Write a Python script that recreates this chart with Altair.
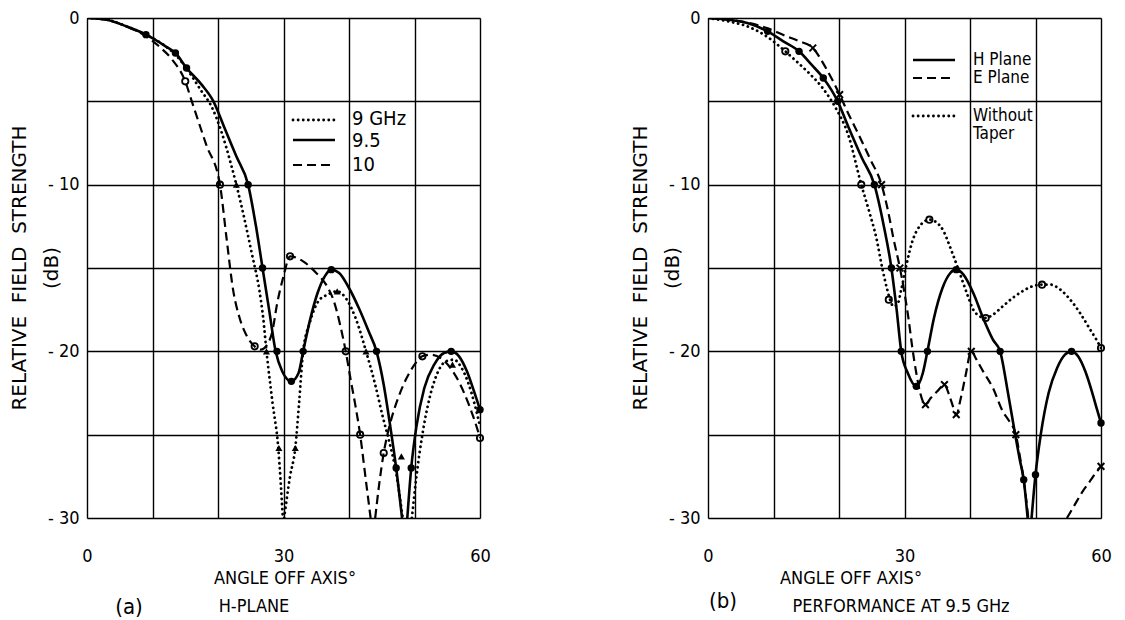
import altair as alt
import pandas as pd

FONT = "Liberation Sans Narrow, DejaVu Sans Condensed, Roboto Condensed, Liberation Sans, DejaVu Sans"
W, H = 393, 500

# ---------------- Panel (a): H-plane, three frequencies ----------------
# 9.5 GHz (solid)
a95_x1 = [0, 3, 6, 9, 12, 13.5, 15.2, 17.5, 19.3, 21, 22.8, 24.6, 25.8, 26.8, 27.8, 28.8, 29.8, 31.2,
          32.3, 33, 34, 35.2, 36.3, 37.3, 38.5, 40, 41.5, 43, 44.2, 45.3, 46.3, 47.2, 48.1]
a95_y1 = [0, -0.1, -0.5, -1.0, -1.7, -2.1, -3.0, -4.0, -5.0, -6.6, -8.3, -10, -12.5, -15, -17.5, -20, -21.2, -21.8,
          -21.3, -20, -18.2, -16.5, -15.5, -15.1, -15.3, -16.2, -17.4, -18.8, -20, -22, -24.5, -27, -30]
a95_x2 = [48.9, 49.5, 50.3, 51.5, 53, 54.5, 55.6, 56.8, 58, 59, 60]
a95_y2 = [-30, -27, -24.5, -22.2, -20.8, -20.1, -20, -20.3, -21.2, -22.3, -23.5]
a95_mx = [9, 13.5, 15.2, 24.6, 26.8, 29, 31.2, 33, 37.3, 44.2, 47.2, 49.5, 55.6, 60]
a95_my = [-1.0, -2.1, -3.0, -10, -15, -20, -21.8, -20, -15.1, -20, -27, -27, -20, -23.5]

# 9 GHz (dotted)
a9_x1 = [0, 3, 6, 9, 12, 13.5, 15.5, 17.5, 19, 20.5, 22, 22.8, 24, 25.2, 26.3, 26.9, 27.4, 28.3, 29.2, 29.9]
a9_y1 = [0, -0.1, -0.5, -1.0, -1.7, -2.2, -3.2, -4.4, -5.3, -6.8, -8.8, -10, -12, -14.2, -16.3, -18, -20, -23, -25.8, -30]
a9_x2 = [30.1, 31, 31.8, 32.4, 33, 34, 35.3, 36.7, 38.2, 39.5, 41, 42.6, 44, 45.2, 46.2, 47.2, 48.2]
a9_y2 = [-30, -27.5, -25.8, -23, -20, -18.3, -17, -16.6, -16.4, -16.8, -18, -20, -22, -24, -25.5, -27.3, -30]
a9_x3 = [49.6, 50.3, 51.2, 52.3, 53.5, 54.8, 56, 57.2, 58.3, 59.2, 60]
a9_y3 = [-30, -27.5, -25, -22.8, -21.3, -20.6, -20.5, -21, -22, -23.2, -24.5]
a9_mx = [22.8, 27.4, 29.3, 31.8, 38.2, 42.6, 48.0, 55.8]
a9_my = [-10, -20, -25.8, -25.8, -16.4, -20, -26.3, -20.8]

# 10 GHz (dashed)
a10_x1 = [0, 3, 6, 9, 11, 13, 15, 16, 18.2, 20.3, 21.3, 22.3, 23.3, 24.3, 25.6, 26.5, 27.5, 28.3, 29, 30,
          31, 33, 35, 36.5, 37.7, 38.7, 39.5, 40.3, 41, 41.7, 42.5, 43.3]
a10_y1 = [0, -0.1, -0.5, -1.1, -1.7, -2.5, -3.8, -5.0, -7.6, -10, -13.2, -16.3, -18, -19, -19.7, -19.9, -19.6, -18.8,
          -17.2, -15.5, -14.3, -14.6, -15.3, -16, -17, -18.5, -20, -21.8, -23.3, -25, -27.5, -30]
a10_x2 = [44, 44.6, 45.3, 46.3, 47.5, 48.8, 50, 51.2, 52.5, 54, 55.5, 57, 58.3, 59.3, 60]
a10_y2 = [-30, -28, -26.1, -24.3, -22.8, -21.6, -20.8, -20.3, -20.2, -20.4, -21, -22, -23.2, -24.3, -25.2]
a10_mx = [15, 20.3, 25.6, 31, 39.5, 41.7, 45.3, 51.2, 60]
a10_my = [-3.8, -10, -19.7, -14.3, -20, -25, -26.1, -20.3, -25.2]

legend_a_labels = ["9 GHz", "9.5", "10"]

# ---------------- Panel (b): performance at 9.5 GHz ----------------
# H plane (solid)
bh_x1 = [0, 3, 6, 9.1, 11.5, 13.9, 15.8, 17.6, 19.8, 21.5, 23.5, 25.4, 26.8, 28, 28.8, 29.5, 30.5, 31.8,
         32.8, 33.5, 34.5, 35.8, 37, 37.9, 39, 40.5, 42, 43.5, 44.6, 45.8, 46.9, 47.6, 48.2, 48.8]
bh_y1 = [0, -0.1, -0.3, -0.8, -1.4, -2.0, -2.8, -3.6, -5.0, -6.6, -8.4, -10, -12.4, -15, -17.5, -20, -21.3, -22.1,
         -21.3, -20, -18, -16.2, -15.3, -15.1, -15.4, -16.5, -18, -19.3, -20, -22.5, -25, -26.5, -27.7, -30]
bh_x2 = [49.4, 50, 50.8, 52, 53.3, 54.5, 55.5, 56.5, 57.6, 58.6, 59.4, 60]
bh_y2 = [-30, -27.4, -25, -22.5, -21, -20.2, -20, -20.3, -21.2, -22.4, -23.5, -24.3]
bh_mx = [9.1, 13.9, 17.6, 19.8, 25.4, 28, 29.5, 31.8, 33.5, 37.9, 44.6, 48.2, 50, 55.5, 60]
bh_my = [-0.8, -2.0, -3.6, -5.0, -10, -15, -20, -22.1, -20, -15.1, -20, -27.7, -27.4, -20, -24.3]

# E plane (dashed)
be_x1 = [0, 5, 9, 12, 14, 16, 18, 20.1, 21.5, 23, 24.8, 26.5, 27.5, 28.3, 29.3, 30, 30.6, 31.2, 31.8, 32.4,
         33.2, 34, 35, 36.1, 36.8, 37.4, 37.9, 38.6, 39.3, 40.2, 41, 42, 43.5, 45, 46, 47, 47.7, 48.3, 48.9]
be_y1 = [0, -0.2, -0.6, -1.1, -1.4, -1.8, -3.0, -4.6, -5.8, -7.0, -8.5, -10, -11.6, -13.2, -15, -16.5, -18, -19.8,
         -21.3, -22.5, -23.2, -22.8, -22.4, -22, -22.6, -23.3, -23.8, -22.8, -21.5, -20, -20.5, -21.2, -22.2, -23.6,
         -24.2, -25, -26.5, -28, -30]
be_x2 = [54.8, 56, 57.2, 58.3, 59.2, 60]
be_y2 = [-30, -29.2, -28.4, -27.8, -27.3, -26.9]
be_mx = [16, 20.1, 26.5, 29.3, 33.2, 36.1, 37.9, 40.2, 47, 60]
be_my = [-1.8, -4.6, -10, -15, -23.2, -22, -23.8, -20, -25, -26.9]

# Without taper (dotted)
bw_x = [0, 3, 6, 9.3, 11.8, 13.5, 15.4, 17.5, 19.5, 21.4, 23.4, 24.6, 25.7, 26.6, 27.3, 27.8, 28.3, 28.9, 29.5,
        30.3, 31.2, 32.3, 33.8, 35.5, 37.4, 38.6, 39.6, 40.5, 41.5, 42.4, 43.5, 45, 46.5, 48, 49.5, 51, 52.3,
        53.8, 55.3, 56.8, 58.2, 59.3, 60]
bw_y = [0, -0.2, -0.5, -1.2, -2.0, -2.6, -3.3, -4.2, -5.4, -7.0, -10, -11.6, -13.2, -15, -16.2, -16.9, -17.3, -17.2,
        -16.3, -14.8, -13.4, -12.5, -12.1, -12.5, -14.2, -15.5, -16.6, -17.5, -17.9, -18.0, -17.8, -17.3, -16.8,
        -16.4, -16.1, -16.0, -16.0, -16.3, -16.9, -17.7, -18.6, -19.3, -19.8]
bw_mx = [11.8, 23.4, 27.6, 33.8, 42.4, 51, 60]
bw_my = [-2.0, -10, -16.9, -12.1, -18.0, -16.0, -19.8]

legend_b_labels = ["H Plane", "E Plane", "Without", "Taper"]

y_title_lines = ["RELATIVE\u00a0\u00a0FIELD\u00a0\u00a0STRENGTH", "(dB)"]
x_title = "ANGLE OFF AXIS\u00b0"
panel_tags = ["(a)", "(b)"]
panel_subtitles = ["H-PLANE", "PERFORMANCE AT 9.5 GHz"]

# ---------------- helpers ----------------
XS = alt.Scale(domain=[0, 60], nice=False, zero=False)
YS = alt.Scale(domain=[-30, 0], nice=False, zero=False)

XAX = alt.Axis(values=list(range(0, 61, 10)), labelExpr="datum.value % 30 == 0 ? datum.label : ''",
               grid=True, gridColor="black", gridWidth=1.4, gridOpacity=1, ticks=False, tickSize=0,
               domain=False, title=None, labelFont=FONT, labelFontSize=18, labelColor="black",
               labelPadding=29, labelFlush=False)
YAX = alt.Axis(values=list(range(-30, 1, 5)),
               labelExpr="datum.value % 10 == 0 ? (datum.value < 0 ? '- ' + abs(datum.value) : '0') : ''",
               grid=True, gridColor="black", gridWidth=1.4, gridOpacity=1, ticks=False, tickSize=0,
               domain=False, title=None, labelFont=FONT, labelFontSize=18, labelColor="black",
               labelPadding=8, labelFlush=False)


def enc(chart):
    return chart.encode(x=alt.X("angle:Q", scale=XS, axis=XAX), y=alt.Y("db:Q", scale=YS, axis=YAX))


def seg_df(*pairs):
    rows = []
    for i, (xs, ys) in enumerate(pairs):
        for x, y in zip(xs, ys):
            rows.append({"angle": x, "db": y, "seg": i})
    return pd.DataFrame(rows)


def line_layer(df, style):
    kw = dict(color="black", interpolate="monotone", clip=True)
    if style == "solid":
        kw.update(strokeWidth=2.6)
    elif style == "dashed":
        kw.update(strokeWidth=2.2, strokeDash=[9, 5])
    else:
        kw.update(strokeWidth=2.8, strokeDash=[0.1, 5], strokeCap="round")
    return enc(alt.Chart(df).mark_line(**kw)).encode(detail="seg:N")


def marker_layer(xs, ys, kind):
    df = pd.DataFrame({"angle": xs, "db": ys})
    if kind == "dot":
        m = alt.Chart(df).mark_point(shape="circle", filled=True, size=55, color="black", opacity=1)
    elif kind == "tri":
        m = alt.Chart(df).mark_point(shape="triangle-up", filled=True, size=50, color="black", opacity=1)
    elif kind == "ring":
        m = alt.Chart(df).mark_point(shape="circle", filled=False, size=40, color="black", strokeWidth=1.8,
                                     opacity=1)
    else:
        m = alt.Chart(df).mark_point(shape="M-1,-1L1,1M1,-1L-1,1", filled=False, size=45, color="black",
                                     strokeWidth=2, opacity=1)
    return enc(m)


ONE = pd.DataFrame({"k": [0]})


def legend_rule(x1, x2, y, style):
    kw = dict(color="black")
    if style == "solid":
        kw.update(strokeWidth=2.6)
    elif style == "dashed":
        kw.update(strokeWidth=2.2, strokeDash=[9, 5])
    else:
        kw.update(strokeWidth=2.8, strokeDash=[0.1, 5], strokeCap="round")
    return alt.Chart(ONE).mark_rule(**kw).encode(x=alt.value(x1), x2=alt.value(x2), y=alt.value(y))


def text_at(txt, x, y, size, angle=0, align="center", font=FONT):
    kw = dict(font=font, fontSize=size, color="black", align=align, baseline="middle")
    if angle:
        kw["angle"] = angle
    return alt.Chart(pd.DataFrame({"t": [txt]})).mark_text(**kw).encode(
        text="t:N", x=alt.value(x), y=alt.value(y))


def frame_titles(tag, sub, tag_x, tag_y, sub_x, xt_x):
    return [
        text_at(y_title_lines[0], -67, 250, 20, angle=270, font="DejaVu Sans"),
        text_at(y_title_lines[1], -35, 250, 20, angle=270, font="DejaVu Sans"),
        text_at(x_title, xt_x, 561, 18),
        text_at(tag, tag_x, tag_y, 22),
        text_at(sub, sub_x, 589, 18),
    ]


# ---------------- panel (a) ----------------
layers_a = [
    line_layer(seg_df((a9_x1, a9_y1), (a9_x2, a9_y2), (a9_x3, a9_y3)), "dotted"),
    line_layer(seg_df((a10_x1, a10_y1), (a10_x2, a10_y2)), "dashed"),
    line_layer(seg_df((a95_x1, a95_y1), (a95_x2, a95_y2)), "solid"),
    marker_layer(a9_mx, a9_my, "tri"),
    marker_layer(a10_mx, a10_my, "ring"),
    marker_layer(a95_mx, a95_my, "dot"),
    legend_rule(206, 248, 102, "dotted"),
    legend_rule(206, 248, 122, "solid"),
    legend_rule(206, 248, 147, "dashed"),
    text_at(legend_a_labels[0], 265, 101, 20, align="left"),
    text_at(legend_a_labels[1], 265, 123, 20, align="left"),
    text_at(legend_a_labels[2], 265, 147, 20, align="left"),
] + frame_titles(panel_tags[0], panel_subtitles[0], 42, 589, 167, 198)

panel_a = alt.layer(*layers_a).properties(width=W, height=H)

# ---------------- panel (b) ----------------
layers_b = [
    line_layer(seg_df((bw_x, bw_y)), "dotted"),
    line_layer(seg_df((be_x1, be_y1), (be_x2, be_y2)), "dashed"),
    line_layer(seg_df((bh_x1, bh_y1), (bh_x2, bh_y2)), "solid"),
    marker_layer(bw_mx, bw_my, "ring"),
    marker_layer(be_mx, be_my, "x"),
    marker_layer(bh_mx, bh_my, "dot"),
    legend_rule(205, 247, 42, "solid"),
    legend_rule(205, 247, 60, "dashed"),
    legend_rule(205, 247, 98, "dotted"),
    text_at(legend_b_labels[0], 265, 42, 17, align="left"),
    text_at(legend_b_labels[1], 265, 60, 17, align="left"),
    text_at(legend_b_labels[2], 265, 98, 17, align="left"),
    text_at(legend_b_labels[3], 265, 116, 17, align="left"),
] + frame_titles(panel_tags[1], panel_subtitles[1], 15, 583, 193, 143)

panel_b = alt.layer(*layers_b).properties(width=W, height=H)

chart = alt.hconcat(panel_a, panel_b, spacing=139).properties(
    padding={"left": 1, "top": 0, "right": 0, "bottom": 0}
).configure_view(stroke="black", strokeWidth=3).configure(background="white")

chart.save("out.html", embed_options={"renderer": "svg", "actions": False})
